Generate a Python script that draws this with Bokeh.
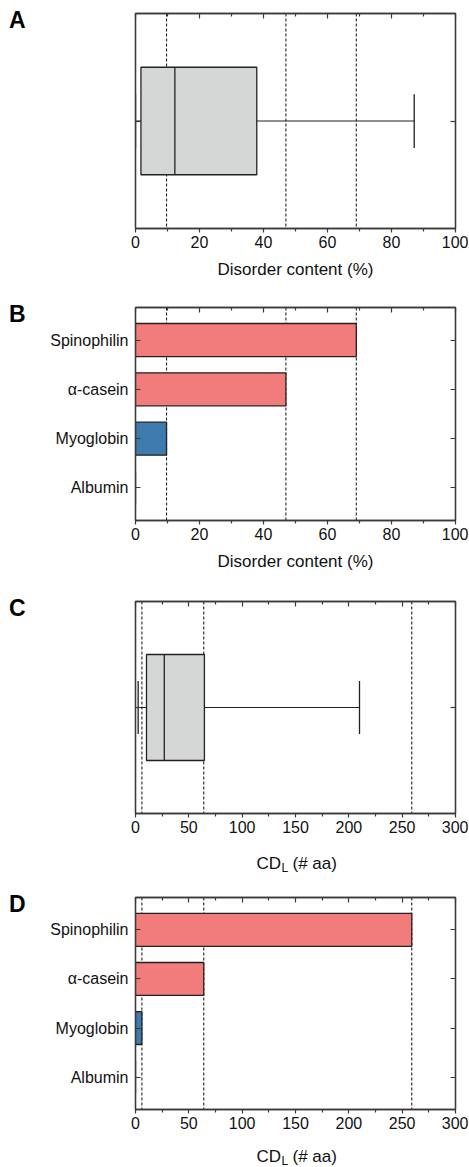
from bokeh.plotting import figure
from bokeh.models import (Range1d, FactorRange, LinearAxis, CategoricalAxis,
                          FixedTicker, Span, Label, ColumnDataSource,
                          CustomJSTickFormatter, Div)
from bokeh.layouts import column, row
from bokeh.embed import file_html
from bokeh.resources import INLINE

# ---------------- data ----------------
proteins = ["Albumin", "Myoglobin", "α-casein", "Spinophilin"]
protein_colors = ["#3F7AAE", "#3F7AAE", "#F27C7B", "#F27C7B"]
disorder_pct = [0, 9.7, 47, 69]
cdl_aa = [0, 6, 64, 259]

# box plot stats: whisker low, q1, median, q3, whisker high
disorder_box = [0, 1.7, 12.3, 37.9, 87.1]
cdl_box = [2.5, 10.3, 27, 64.6, 210]

disorder_ticks = [0, 20, 40, 60, 80, 100]
disorder_minor = [10, 30, 50, 70, 90]
cdl_ticks = [0, 50, 100, 150, 200, 250, 300]
cdl_minor = [25, 75, 125, 175, 225, 275]

panel_letters = ["A", "B", "C", "D"]
disorder_label = "Disorder content (%)"
cdl_label_parts = ["CD", "L", "(# aa)"]

# ---------------- style ----------------
FONT = "Liberation Sans"
AX = "#3a3a3a"
TXT = "#111111"
TOTAL_W = 468
LET_W = 40
W = TOTAL_W - LET_W
BL = 95
BR = 13


def style_axis(ax):
    ax.axis_line_color = AX
    ax.axis_line_width = 1.3
    ax.major_tick_line_color = AX
    ax.minor_tick_line_color = AX
    ax.major_tick_line_width = 1.2
    ax.minor_tick_line_width = 1.2
    ax.major_label_text_font = FONT
    ax.major_label_text_font_size = "16px"
    ax.major_label_text_color = TXT
    ax.axis_label_text_font = FONT
    ax.axis_label_text_font_size = "17px"
    ax.axis_label_text_font_style = "normal"
    ax.axis_label_text_color = TXT


def hidden_labels(ax):
    ax.formatter = CustomJSTickFormatter(code="return ''")
    ax.major_label_text_font_size = "1px"
    ax.major_label_standoff = 0


def blank_fig(width, height):
    f = figure(width=width, height=height, x_range=Range1d(0, 1), y_range=Range1d(0, 1),
               x_axis_type=None, y_axis_type=None, output_backend="svg",
               toolbar_location=None, min_border=0)
    f.outline_line_color = None
    f.xgrid.visible = False
    f.ygrid.visible = False
    return f


def letter_div(letter, height, top):
    pad = top - 4
    html = ("<div style=\"font-family:'Liberation Sans',Arial,sans-serif;font-size:23px;"
            "font-weight:bold;line-height:23px;color:#000;padding-left:9px;"
            "padding-top:%dpx;\">%s</div>" % (pad, letter))
    return Div(text=html, width=LET_W, height=height, margin=0)


def footer_fig(height, base_from_bottom):
    f = blank_fig(TOTAL_W, height)
    common = dict(x_units="screen", y_units="screen", text_font=FONT,
                  text_color=TXT, text_baseline="alphabetic", text_align="left")
    f.add_layout(Label(x=256, y=base_from_bottom, text=cdl_label_parts[0],
                       text_font_size="17px", **common))
    f.add_layout(Label(x=281, y=base_from_bottom - 4.5, text=cdl_label_parts[1],
                       text_font_size="12px", **common))
    f.add_layout(Label(x=292, y=base_from_bottom, text=cdl_label_parts[2],
                       text_font_size="17px", **common))
    return f


def base(height, top, bottom, x_range, y_range, ticks, minor, xlabel):
    p = figure(width=W, height=height, x_range=x_range, y_range=y_range,
               x_axis_type=None, y_axis_type=None,
               output_backend="svg", toolbar_location=None,
               min_border_left=BL, min_border_right=BR,
               min_border_top=top, min_border_bottom=bottom)
    p.outline_line_color = AX
    p.outline_line_width = 1.3
    p.xgrid.visible = False
    p.ygrid.visible = False

    xb = LinearAxis(ticker=FixedTicker(ticks=ticks, minor_ticks=minor))
    style_axis(xb)
    xb.major_tick_in = 0
    xb.major_tick_out = 4
    xb.minor_tick_in = 0
    xb.minor_tick_out = 3
    xb.major_label_standoff = 3
    xb.axis_label_standoff = 9
    if xlabel:
        xb.axis_label = xlabel
    p.add_layout(xb, "below")

    xt = LinearAxis(ticker=FixedTicker(ticks=ticks, minor_ticks=minor))
    style_axis(xt)
    hidden_labels(xt)
    xt.major_tick_in = 5
    xt.major_tick_out = 0
    xt.minor_tick_in = 3
    xt.minor_tick_out = 0
    p.add_layout(xt, "above")
    return p


def add_spans(p, values):
    for v in values:
        if v > 0:
            p.add_layout(Span(location=v, dimension="height", line_color="#222222",
                              line_dash="3 2", line_width=1.1, level="underlay"))


def box_panel(height, top, bottom, xmax, ticks, minor, stats, values, xlabel):
    p = base(height, top, bottom, Range1d(0, xmax), Range1d(0, 1), ticks, minor, xlabel)
    for loc in ("left", "right"):
        ya = LinearAxis(ticker=FixedTicker(ticks=[0.5]))
        style_axis(ya)
        hidden_labels(ya)
        ya.major_tick_in = 5
        ya.major_tick_out = 0
        p.add_layout(ya, loc)
    add_spans(p, values)
    lo, q1, med, q3, hi = stats
    p.hbar(y=[0.5], left=[q1], right=[q3], height=0.5,
           fill_color="#D5D7D6", line_color="#222222", line_width=1.3)
    p.segment(x0=[med], x1=[med], y0=[0.25], y1=[0.75], line_color="#222222", line_width=1.3)
    p.segment(x0=[lo, q3], x1=[q1, hi], y0=[0.5, 0.5], y1=[0.5, 0.5],
              line_color="#222222", line_width=1.2)
    p.segment(x0=[lo, hi], x1=[lo, hi], y0=[0.375, 0.375], y1=[0.625, 0.625],
              line_color="#222222", line_width=1.3)
    return p


def bar_panel(height, top, bottom, xmax, ticks, minor, values, xlabel):
    yr = FactorRange(factors=proteins, range_padding=0.08)
    p = base(height, top, bottom, Range1d(0, xmax), yr, ticks, minor, xlabel)
    yl = CategoricalAxis()
    style_axis(yl)
    yl.major_tick_in = 5
    yl.major_tick_out = 0
    yl.major_label_standoff = 7
    p.add_layout(yl, "left")
    yrx = CategoricalAxis()
    style_axis(yrx)
    hidden_labels(yrx)
    yrx.major_tick_in = 5
    yrx.major_tick_out = 0
    p.add_layout(yrx, "right")
    add_spans(p, values)
    src = ColumnDataSource(dict(y=proteins, v=values, c=protein_colors))
    p.hbar(y="y", left=0, right="v", height=0.67, fill_color="c",
           line_color="#222222", line_width=1.3, source=src)
    return p


# panel A
hA, tA, bA = 294, 13, 66
pA = box_panel(hA, tA, bA, 100, disorder_ticks, disorder_minor, disorder_box,
               disorder_pct, disorder_label)
# panel B
hB, tB, bB = 294, 13, 68
pB = bar_panel(hB, tB, bB, 100, disorder_ticks, disorder_minor, disorder_pct, disorder_label)
# panel C
hC, tC, bC = 255, 13, 30
pC = box_panel(hC, tC, bC, 300, cdl_ticks, cdl_minor, cdl_box, cdl_aa, None)
fC = footer_fig(37, 17)
# panel D
hD, tD, bD = 255, 17, 26
pD = bar_panel(hD, tD, bD, 300, cdl_ticks, cdl_minor, cdl_aa, None)
fD = footer_fig(32, 11)

layout = column(
    row(letter_div(panel_letters[0], hA, tA), pA, spacing=0),
    row(letter_div(panel_letters[1], hB, tB), pB, spacing=0),
    row(letter_div(panel_letters[2], hC, tC), pC, spacing=0),
    fC,
    row(letter_div(panel_letters[3], hD, tD), pD, spacing=0),
    fD,
    spacing=0,
)
open("out.html", "w").write(file_html(layout, INLINE))
